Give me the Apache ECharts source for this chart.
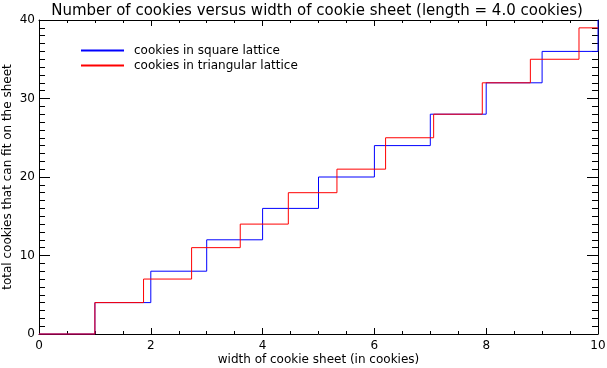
<!DOCTYPE html>
<html><head><meta charset="utf-8">
<script src="https://cdn.jsdelivr.net/npm/echarts@6/dist/echarts.min.js"></script>
<style>html,body{margin:0;padding:0;background:#fff}#c{width:607px;height:368px}</style>
</head><body><div id="c"></div>
<script>
const titleText = "Number of cookies versus width of cookie sheet (length = 4.0 cookies)";
const xLabel = "width of cookie sheet (in cookies)";
const yLabel = "total cookies that can fit on the sheet";
const seriesNames = ["cookies in square lattice", "cookies in triangular lattice"];
const squareX = [0, 1, 2, 3, 4, 5, 6, 7, 8, 9, 10];
const squareY = [0, 4, 8, 12, 16, 20, 24, 28, 32, 36, 40];
const triX = [0, 1, 1.87, 2.73, 3.6, 4.46, 5.33, 6.2, 7.06, 7.93, 8.79, 9.66, 10];
const triY = [0, 4, 7, 11, 14, 18, 21, 25, 28, 32, 35, 39, 39];

const font = "DejaVu Sans";
const chart = echarts.init(document.getElementById('c'), null, {renderer: 'canvas'});
function xAx(pos, labels) {
  return {
    type: 'value', position: pos, min: 0, max: 10, interval: 2,
    axisLine: {show: true, onZero: false, lineStyle: {color: '#000', width: 1}},
    axisTick: {show: true, inside: true, length: 6, lineStyle: {color: '#000'}},
    minorTick: {show: true, splitNumber: 4, length: 3, lineStyle: {color: '#000'}},
    splitLine: {show: false},
    axisLabel: {show: labels, color: '#000', fontFamily: font, fontSize: 12, margin: 6},
    name: labels ? xLabel : '', nameLocation: 'middle', nameGap: 20, nameMoveOverlap: false,
    nameTextStyle: {color: '#000', fontFamily: font, fontSize: 12}
  };
}
function yAx(pos, labels) {
  return {
    type: 'value', position: pos, min: 0, max: 40, interval: 10,
    axisLine: {show: true, onZero: false, lineStyle: {color: '#000', width: 1}},
    axisTick: {show: true, inside: true, length: 11, lineStyle: {color: '#000'}},
    minorTick: {show: true, splitNumber: 10, length: 6, lineStyle: {color: '#000'}},
    splitLine: {show: false},
    axisLabel: {show: labels, color: '#000', fontFamily: font, fontSize: 12, margin: 4},
    name: labels ? yLabel : '', nameLocation: 'middle', nameGap: 25, nameMoveOverlap: false,
    nameTextStyle: {color: '#000', fontFamily: font, fontSize: 12}
  };
}
chart.setOption({
  animation: false,
  backgroundColor: '#fff',
  title: {text: titleText, left: 312, textAlign: 'center', top: -1,
    textStyle: {fontFamily: font, fontSize: 15, fontWeight: 'normal', color: '#000'}},
  legend: {
    orient: 'vertical', left: 81, top: 44, padding: 0, itemWidth: 43, itemHeight: 2, itemGap: 2,
    icon: 'rect',
    textStyle: {fontFamily: font, fontSize: 12, color: '#000', padding: [0, 0, 0, 5], lineHeight: 13},
    data: seriesNames
  },
  grid: {left: 39, right: 9, top: 20, bottom: 34, containLabel: false, outerBoundsMode: 'none'},
  xAxis: [xAx('bottom', true), xAx('top', false)],
  yAxis: [yAx('left', true), yAx('right', false)],
  series: [
    {name: seriesNames[0], type: 'line', step: 'end', symbol: 'none', color: '#0000ff', clip: false,
     lineStyle: {width: 1, color: '#0000ff'},
     data: squareX.map((x, i) => [x, squareY[i]])},
    {name: seriesNames[1], type: 'line', step: 'end', symbol: 'none', color: '#ff0000', clip: false,
     lineStyle: {width: 1, color: '#ff0000'},
     data: triX.map((x, i) => [x, triY[i]])}
  ]
});
</script></body></html>
